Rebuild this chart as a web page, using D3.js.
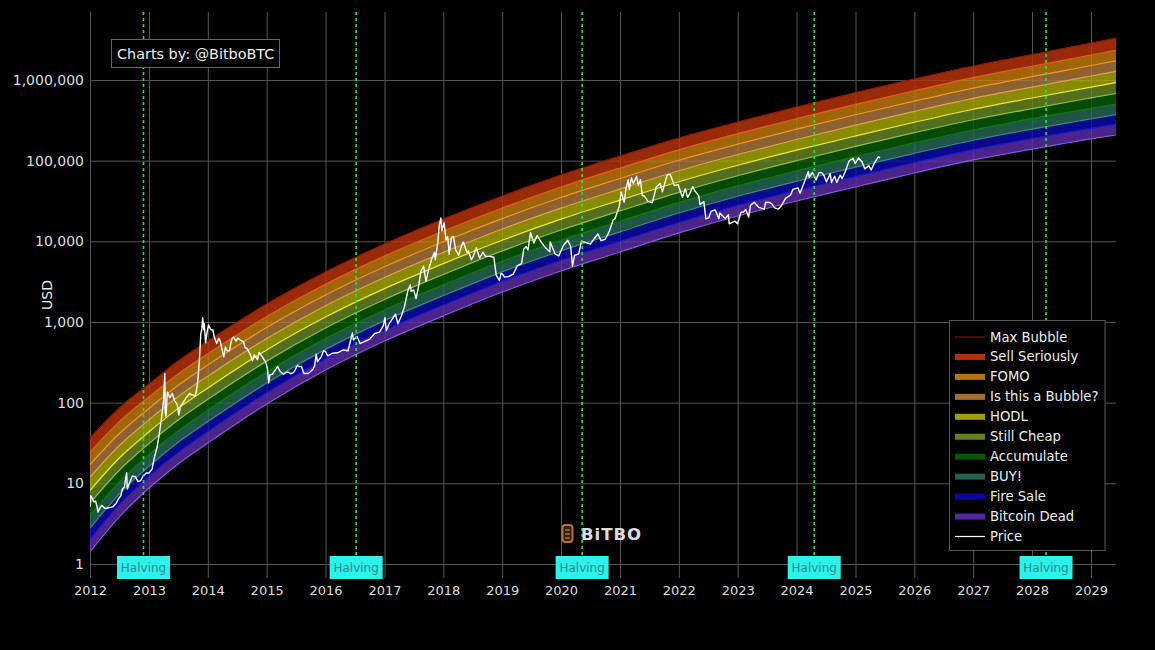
<!DOCTYPE html>
<html>
<head>
<meta charset="utf-8">
<script src="https://cdn.jsdelivr.net/npm/d3@7"></script>
<style>
  html, body { margin: 0; background: #000; }
  svg { display: block; font-family: "DejaVu Sans", sans-serif; }
  .axis { font-family: "DejaVu Sans", sans-serif; }
  .axis .domain { display: none; }
  .axis line { stroke: #555; }
  .axis text { fill: #ddd; }
</style>
</head>
<body>
<div id="chart"></div>
<script>
// band boundaries, sampled at each of these dates (USD)
var bandDates = ["2012-01-01","2012-07-01","2013-01-01","2013-07-01","2014-01-01","2015-01-01","2016-01-01","2017-01-01","2018-01-01","2019-01-01","2020-01-01","2021-01-01","2022-01-01","2023-01-01","2024-01-01","2025-01-01","2026-01-01","2027-01-01","2028-01-01","2029-01-01","2029-06-05"];
var maxBubble = [36.5,85.9,170,328,581,1670,4170,9260,18900,36500,66400,114000,191000,301000,462000,700000,1030000,1490000,2070000,2870000,3310000];
var sellSeriously = [24.3,58.2,118,227,404,1170,2940,6550,13400,25900,47100,81100,136000,216000,331000,499000,735000,1070000,1480000,2040000,2340000];
var fomo = [17,41.4,84.8,164,293,854,2160,4830,9870,19100,34900,60000,101000,160000,246000,371000,547000,793000,1100000,1510000,1730000];
var isThisABubble = [11.9,29.4,61.2,119,213,624,1590,3560,7280,14200,25800,44400,74900,119000,183000,276000,408000,591000,816000,1120000,1280000];
var hodl = [8.16,20.6,43.5,84.9,152,450,1150,2590,5290,10300,18800,32400,54800,87700,135000,202000,299000,434000,598000,815000,927000];
var stillCheap = [5.67,14.5,31.2,61.1,110,327,841,1900,3880,7600,13800,23800,40500,65000,99700,150000,222000,321000,442000,599000,680000];
var accumulate = [3.99,10.35,22.6,44.5,80.3,240,622,1410,2880,5660,10300,17700,30200,48600,74600,112000,166000,240000,331000,446000,504000];
var buy = [2.79,7.36,16.3,32.2,58.3,175,457,1040,2120,4180,7620,13100,22400,36200,55500,83100,123000,179000,246000,330000,372000];
var fireSale = [2.01,5.4,12.1,24,43.6,132,346,788,1610,3180,5790,9970,17100,27700,42500,63400,94400,137000,188000,251000,282000];
var bitcoinDead = [1.41,3.83,8.75,17.4,31.6,96.2,254,581,1190,2350,4290,7370,12700,20600,31600,47100,70300,102000,139000,186000,208000];

var bandNames = ["Max Bubble","Sell Seriously","FOMO","Is this a Bubble?","HODL","Still Cheap","Accumulate","BUY!","Fire Sale","Bitcoin Dead"];
var bandSeries = [maxBubble,sellSeriously,fomo,isThisABubble,hodl,stillCheap,accumulate,buy,fireSale,bitcoinDead];
var bandFills = [null,"#be340c","#c87e0c","#b07a3c","#acac00","#6a8a26","#085c08","#276a56","#0a0aaf","#5c2daa"];
var bandLines = ["#8a1a0a","#f05a1e","#f09a1e","#e0a060","#f0f020","#8fc040","#0a800a","#30907a","#1a1ae0","#9050e0"];

// price
var priceDates = [
 "2012-01-01","2012-01-04","2012-01-10","2012-01-18","2012-01-26","2012-02-05","2012-02-13","2012-02-20","2012-03-01","2012-03-15","2012-04-01","2012-04-15","2012-05-01","2012-05-20","2012-06-10","2012-06-25","2012-07-10","2012-07-20","2012-08-01","2012-08-15","2012-08-20","2012-09-01","2012-09-20","2012-10-10","2012-10-25","2012-11-10","2012-11-25","2012-12-15",
 "2013-01-01","2013-01-20","2013-02-01","2013-02-20","2013-03-05","2013-03-20","2013-04-01","2013-04-09","2013-04-12","2013-04-16","2013-04-25","2013-05-10","2013-05-25","2013-06-10","2013-06-25","2013-07-05","2013-07-15","2013-08-01","2013-08-20","2013-09-10","2013-09-20","2013-10-01","2013-10-15","2013-10-25","2013-11-01","2013-11-10","2013-11-18","2013-11-25","2013-11-30","2013-12-07","2013-12-10","2013-12-18","2013-12-25",
 "2014-01-05","2014-01-20","2014-02-01","2014-02-10","2014-02-25","2014-03-10","2014-03-20","2014-04-01","2014-04-10","2014-04-20","2014-05-01","2014-05-15","2014-05-30","2014-06-10","2014-06-25","2014-07-05","2014-07-25","2014-08-10","2014-08-20","2014-09-01","2014-09-20","2014-10-05","2014-10-15","2014-11-05","2014-11-15","2014-12-05","2014-12-25",
 "2015-01-05","2015-01-14","2015-01-20","2015-02-05","2015-02-15","2015-03-10","2015-03-25","2015-04-15","2015-05-05","2015-05-15","2015-05-30","2015-06-15","2015-06-25","2015-07-10","2015-07-20","2015-08-05","2015-08-20","2015-09-15","2015-09-25","2015-10-15","2015-10-25","2015-11-05","2015-11-12","2015-12-05","2015-12-20",
 "2016-01-01","2016-01-15","2016-02-15","2016-03-15","2016-04-20","2016-05-20","2016-06-16","2016-06-22","2016-07-15","2016-08-02","2016-09-01","2016-10-01","2016-11-01","2016-12-01","2016-12-25",
 "2017-01-04","2017-01-12","2017-02-01","2017-02-20","2017-03-10","2017-03-25","2017-04-15","2017-05-05","2017-05-25","2017-06-10","2017-06-15","2017-07-01","2017-07-16","2017-08-01","2017-08-15","2017-09-01","2017-09-15","2017-10-01","2017-10-20","2017-11-07","2017-11-12","2017-11-28","2017-12-07","2017-12-17","2017-12-22",
 "2018-01-06","2018-01-17","2018-01-28","2018-02-06","2018-02-20","2018-03-05","2018-03-18","2018-04-06","2018-04-25","2018-05-05","2018-05-28","2018-06-05","2018-06-24","2018-07-05","2018-07-25","2018-08-14","2018-09-04","2018-09-20","2018-10-15","2018-11-10","2018-11-25","2018-12-15","2018-12-25",
 "2019-01-05","2019-01-15","2019-02-10","2019-02-25","2019-03-10","2019-04-05","2019-05-01","2019-05-15","2019-05-30","2019-06-10","2019-06-26","2019-07-16","2019-08-06","2019-09-01","2019-09-25","2019-10-24","2019-10-26","2019-11-25","2019-12-18",
 "2020-01-15","2020-02-12","2020-03-01","2020-03-12","2020-03-25","2020-04-20","2020-05-07","2020-06-01","2020-06-20","2020-07-01","2020-07-28","2020-08-17","2020-09-05","2020-10-01","2020-10-25","2020-11-20","2020-12-01","2020-12-27",
 "2021-01-08","2021-01-27","2021-02-08","2021-02-21","2021-02-28","2021-03-13","2021-03-25","2021-04-14","2021-04-25","2021-05-08","2021-05-19","2021-06-01","2021-06-22","2021-07-20","2021-08-14","2021-09-07","2021-09-21","2021-10-20","2021-11-09","2021-12-04","2021-12-27",
 "2022-01-10","2022-01-24","2022-02-10","2022-02-24","2022-03-10","2022-03-28","2022-04-10","2022-04-25","2022-05-05","2022-05-12","2022-06-05","2022-06-18","2022-07-05","2022-07-20","2022-08-15","2022-09-06","2022-09-12","2022-10-15","2022-11-05","2022-11-09","2022-12-14","2022-12-31",
 "2023-01-22","2023-02-05","2023-02-20","2023-03-10","2023-03-22","2023-04-14","2023-05-12","2023-06-15","2023-06-23","2023-07-15","2023-07-30","2023-08-18","2023-09-11","2023-10-01","2023-10-25","2023-11-25","2023-12-10",
 "2024-01-10","2024-01-23","2024-02-15","2024-03-14","2024-03-20","2024-04-08","2024-05-01","2024-05-20","2024-06-05","2024-06-20","2024-07-05","2024-07-28","2024-08-05","2024-08-25","2024-09-06","2024-09-28","2024-10-10","2024-10-29","2024-11-22","2024-12-17","2024-12-30",
 "2025-01-20","2025-02-10","2025-02-28","2025-03-25","2025-04-08","2025-05-01","2025-05-22","2025-06-03"
];
var priceValues = [
 5.1,7,6.8,6.3,5.9,6,5.2,4.4,4.9,5.3,4.9,4.9,5,5.1,5.6,6.4,7,8.5,9,13.5,8.5,10,12.3,12,10.5,10.8,12.3,13.4,
 13.4,15,20,28,40,65,105,230,75,68,135,115,130,105,95,70,90,100,115,130,125,125,120,150,200,340,700,820,1130,800,950,550,700,
 920,800,800,650,540,630,570,440,370,490,440,440,620,650,580,630,590,570,480,470,400,330,390,340,420,370,320,
 270,175,220,225,240,280,245,225,238,240,228,235,250,290,280,280,230,230,238,260,285,400,320,370,440,
 430,380,410,415,450,440,730,600,660,540,575,610,720,750,900,
 1130,780,970,1100,1250,950,1180,1550,2400,2900,2400,2500,1950,2800,4300,4900,3200,4400,6000,7300,5900,9800,16000,19500,13500,
 17000,10500,11500,6900,11200,11500,7900,6700,8900,9800,7200,7600,5900,6500,8300,6200,7300,6500,6500,6350,3800,3250,4000,
 3900,3600,3650,3800,3900,5000,5300,8000,8600,7800,12900,9500,11800,9700,8400,7400,9800,7000,6600,
 8800,10300,8600,4900,6700,7000,10000,9700,9400,9200,11000,12300,10200,10600,13000,18500,19000,27000,
 41000,30500,46000,57500,44000,61000,52000,64000,49000,58500,37000,36500,31500,30000,47000,52000,41000,66000,67500,49000,50500,
 42000,35000,45000,35000,39000,47500,42000,39000,36000,28500,31000,19000,19500,23500,24500,19000,22500,19200,21300,16500,17800,16500,
 23000,23000,24800,20000,28000,30500,26300,25000,30500,30300,29300,26000,25100,28000,34000,37500,44000,
 46000,39500,52000,73000,62000,71500,57500,71000,71000,65000,54500,69000,53500,64000,53800,66000,60000,73000,99000,107000,92000,
 108000,97000,79000,87000,76500,96000,111000,108000
];

var halvingDates = ["2012-11-28","2016-07-09","2020-05-11","2024-04-20","2028-03-28"];
var yearTicks = d3.range(2012, 2030);
var priceTicks = [1,10,100,1000,10000,100000,1000000];

var width = 1155, height = 650;
var margin = { top: 12, right: 39, bottom: 72, left: 90 };

var parseDay = d3.timeParse("%Y-%m-%d");
var bandX = bandDates.map(parseDay);
var priceX = priceDates.map(parseDay);

var x = d3.scaleTime()
  .domain([parseDay("2012-01-01"), parseDay("2029-06-05")])
  .range([margin.left, width - margin.right]);
var y = d3.scaleLog()
  .domain([0.67, 6960000])
  .range([height - margin.bottom, margin.top]);

var svg = d3.select("#chart").append("svg")
  .attr("width", width)
  .attr("height", height);

svg.append("defs").append("clipPath").attr("id", "plot")
  .append("rect")
  .attr("x", margin.left).attr("y", margin.top)
  .attr("width", width - margin.left - margin.right)
  .attr("height", height - margin.top - margin.bottom);

// axes double as the grid
svg.append("g")
  .attr("class", "axis")
  .attr("transform", "translate(0," + (height - margin.bottom) + ")")
  .call(d3.axisBottom(x)
    .tickValues(yearTicks.map(function(d) { return new Date(d, 0, 1); }))
    .tickFormat(d3.timeFormat("%Y"))
    .tickSize(-(height - margin.top - margin.bottom))
    .tickPadding(8))
  .call(function(g) { g.attr("font-family", null); })
  .selectAll("text").style("font-size", "13px");

svg.append("g")
  .attr("class", "axis")
  .attr("transform", "translate(" + margin.left + ",0)")
  .call(d3.axisLeft(y)
    .tickValues(priceTicks)
    .tickFormat(d3.format(","))
    .tickSize(-(width - margin.left - margin.right))
    .tickPadding(6))
  .call(function(g) { g.attr("font-family", null); })
  .selectAll("text").style("font-size", "14px");

svg.append("text")
  .attr("transform", "translate(52,295) rotate(-90)")
  .attr("text-anchor", "middle")
  .attr("fill", "#eee")
  .style("font-size", "14px")
  .text("USD");

var plot = svg.append("g").attr("clip-path", "url(#plot)");

// rainbow bands, each one fills down to its own lower edge
var area = d3.area()
  .x(function(d) { return x(d.date); })
  .y0(function(d) { return y(d.lower); })
  .y1(function(d) { return y(d.upper); })
  .curve(d3.curveMonotoneX);
var line = d3.line()
  .x(function(d) { return x(d.date); })
  .y(function(d) { return y(d.value); })
  .curve(d3.curveMonotoneX);

bandSeries.forEach(function(series, k) {
  if (k > 0) {
    plot.append("path")
      .attr("d", area(series.map(function(v, i) {
        return { date: bandX[i], lower: v, upper: bandSeries[k - 1][i] };
      })))
      .attr("fill", bandFills[k])
      .attr("fill-opacity", 0.8);
  }
});
bandSeries.forEach(function(series, k) {
  plot.append("path")
    .attr("d", line(series.map(function(v, i) { return { date: bandX[i], value: v }; })))
    .attr("fill", "none")
    .attr("stroke", bandLines[k])
    .attr("stroke-width", 1.2);
});

// halvings
halvingDates.forEach(function(d) {
  var hx = x(parseDay(d));
  svg.append("line")
    .attr("x1", hx).attr("x2", hx)
    .attr("y1", margin.top).attr("y2", 556)
    .attr("stroke", "#35dd44")
    .attr("stroke-width", 1.6)
    .attr("stroke-dasharray", "3,3");
});

// price on top
plot.append("path")
  .attr("d", d3.line()
    .x(function(d) { return x(d.date); })
    .y(function(d) { return y(d.value); })(priceValues.map(function(v, i) {
      return { date: priceX[i], value: v };
    })))
  .attr("fill", "none")
  .attr("stroke", "#fff")
  .attr("stroke-width", 1.4)
  .attr("stroke-linejoin", "round");

halvingDates.forEach(function(d) {
  var hx = x(parseDay(d));
  svg.append("rect")
    .attr("x", hx - 26.5).attr("y", 556)
    .attr("width", 53).attr("height", 23)
    .attr("fill", "#2ef2ea");
  svg.append("text")
    .attr("x", hx).attr("y", 572)
    .attr("text-anchor", "middle")
    .attr("fill", "#2a8a90")
    .style("font-size", "12px")
    .text("Halving");
});

// credit box
var credit = svg.append("g");
credit.append("rect")
  .attr("x", 111.5).attr("y", 39.5)
  .attr("width", 168).attr("height", 28)
  .attr("fill", "#000")
  .attr("stroke", "#666");
credit.append("text")
  .attr("x", 117).attr("y", 59)
  .attr("fill", "#eee")
  .style("font-size", "14.4px")
  .text("Charts by: @BitboBTC");

// watermark
var mark = svg.append("g");
mark.append("rect")
  .attr("x", 562.5).attr("y", 525)
  .attr("width", 10).attr("height", 17)
  .attr("rx", 3)
  .attr("fill", "#2c1c08")
  .attr("stroke", "#b5762a")
  .attr("stroke-width", 2);
mark.append("path")
  .attr("d", "M565 530h5M565 534h5M565 538h5")
  .attr("stroke", "#b5762a")
  .attr("stroke-width", 1.3);
mark.append("text")
  .attr("x", 581).attr("y", 540)
  .attr("fill", "#ddd")
  .style("font-size", "16.5px")
  .style("font-weight", "bold")
  .style("letter-spacing", "1px")
  .text("BiTBO");

// legend
var legend = svg.append("g");
legend.append("rect")
  .attr("x", 949.5).attr("y", 320.5)
  .attr("width", 155.5).attr("height", 230)
  .attr("fill", "#000")
  .attr("stroke", "#555");

bandNames.concat("Price").forEach(function(name, k) {
  var ly = 337 + k * 19.95;
  if (k > 0 && k < bandNames.length) {
    legend.append("rect")
      .attr("x", 955).attr("y", ly - 3)
      .attr("width", 30).attr("height", 6)
      .attr("fill", bandFills[k])
      .attr("fill-opacity", 0.92);
  }
  legend.append("line")
    .attr("x1", 955).attr("x2", 985)
    .attr("y1", ly).attr("y2", ly)
    .attr("stroke", k < bandNames.length ? (k == 0 ? bandLines[k] : bandFills[k]) : "#fff")
    .attr("stroke-width", k == 0 ? 1 : (k < bandNames.length ? 0 : 1.2));
  legend.append("text")
    .attr("x", 990).attr("y", ly + 4.5)
    .attr("fill", "#eee")
    .style("font-size", "13.2px")
    .text(name);
});
</script>
</body>
</html>
